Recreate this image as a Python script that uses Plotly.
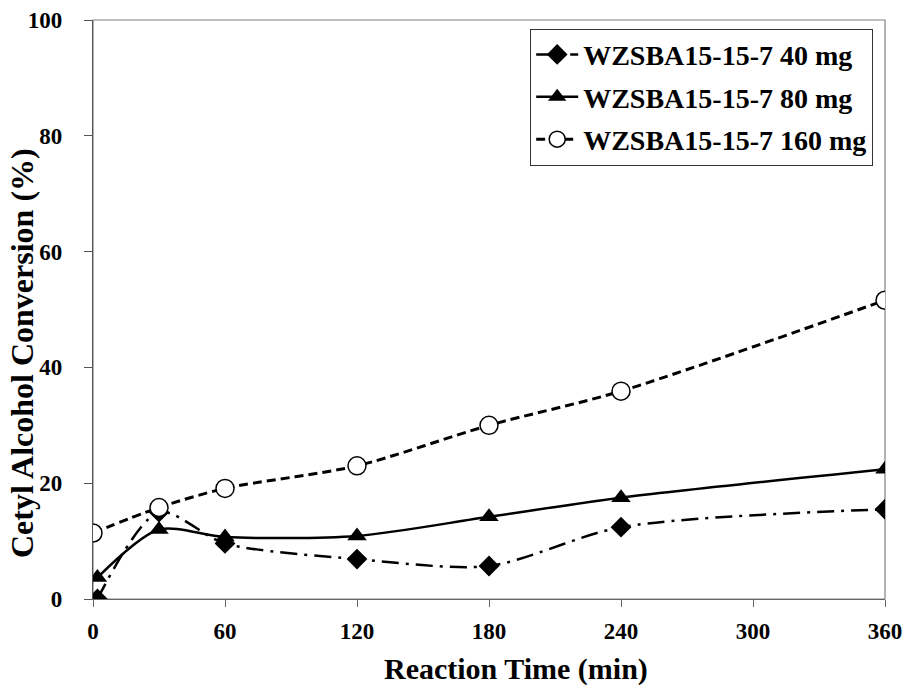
import plotly.graph_objects as go

time_40 = [2, 30, 60, 120, 180, 240, 360]
conv_40 = [0.0, 15.0, 9.6, 6.9, 5.7, 12.4, 15.5]

time_80 = [2, 30, 60, 120, 180, 240, 360]
conv_80 = [3.7, 12.0, 10.7, 10.9, 14.2, 17.5, 22.4]

time_160 = [0, 30, 60, 120, 180, 240, 360]
conv_160 = [11.4, 15.8, 19.1, 23.0, 30.0, 35.9, 51.6]

names = ["WZSBA15-15-7 40 mg", "WZSBA15-15-7 80 mg", "WZSBA15-15-7 160 mg"]
x_ticks = [0, 60, 120, 180, 240, 300, 360]
y_ticks = [0, 20, 40, 60, 80, 100]
x_title = "Reaction Time (min)"
y_title = "Cetyl Alcohol Conversion (%)"

FONT = "Liberation Serif, Times New Roman, serif"

fig = go.Figure()
fig.add_trace(go.Scatter(
    x=time_80, y=conv_80, name=names[1], mode="lines+markers", legendrank=2,
    line=dict(color="black", width=2.5, shape="spline", smoothing=0.8),
    marker=dict(symbol="triangle-up", size=17, color="black"),
    legendgroup="b"))
fig.add_trace(go.Scatter(
    x=time_40, y=conv_40, name=names[0], mode="lines+markers", legendrank=1,
    line=dict(color="black", width=2.5, shape="spline", smoothing=0.8,
              dash="17px,7px,3px,7px"),
    marker=dict(symbol="diamond", size=16, color="black"),
    legendgroup="a"))
fig.add_trace(go.Scatter(
    x=time_160, y=conv_160, name=names[2], mode="lines+markers", legendrank=3,
    line=dict(color="black", width=3, shape="spline", smoothing=0.8,
              dash="9px,5px"),
    marker=dict(symbol="circle", size=18, color="white",
                line=dict(color="black", width=1.5)),
    legendgroup="c"))

fig.add_shape(type="rect", xref="paper", yref="paper", x0=0, y0=0, x1=1, y1=1,
              line=dict(color="#808080", width=1.2), layer="below")

fig.add_annotation(text=x_title, xref="paper", yref="paper", x=0.534, y=-0.121,
                   xanchor="center", yanchor="middle", showarrow=False,
                   font=dict(family=FONT, size=30, weight="bold", color="black"))
fig.add_annotation(text=y_title, xref="paper", yref="paper", x=-0.0895, y=0.425,
                   xanchor="center", yanchor="middle", showarrow=False, textangle=-90,
                   font=dict(family=FONT, size=32, weight="bold", color="black"))

fig.update_layout(
    width=904, height=686,
    margin=dict(l=93, r=19, t=20, b=87),
    paper_bgcolor="white", plot_bgcolor="white",
    font=dict(family=FONT, color="black", size=23, weight="bold"),
    showlegend=True,
    legend=dict(x=0.552, y=0.985, xanchor="left", yanchor="top",
                bordercolor="#333", borderwidth=1, bgcolor="white",
                font=dict(family=FONT, size=28, color="black", weight="bold"),
                traceorder="grouped", tracegroupgap=3, itemwidth=42),
    xaxis=dict(range=[0, 360], tickvals=x_ticks, ticks="outside", ticklen=7,
               tickcolor="#666", showline=True, linecolor="#666", linewidth=1.2,
               showgrid=False, zeroline=False, automargin=False,
               ticklabelstandoff=4,
               tickfont=dict(family=FONT, size=23, weight="bold")),
    yaxis=dict(range=[0, 100], tickvals=y_ticks, ticks="outside", ticklen=8,
               tickcolor="#555", showline=True, linecolor="#555", linewidth=1.2,
               showgrid=False, zeroline=False, automargin=False,
               ticklabelstandoff=17,
               tickfont=dict(family=FONT, size=23, weight="bold")),
)

fig.write_html("out.html")
